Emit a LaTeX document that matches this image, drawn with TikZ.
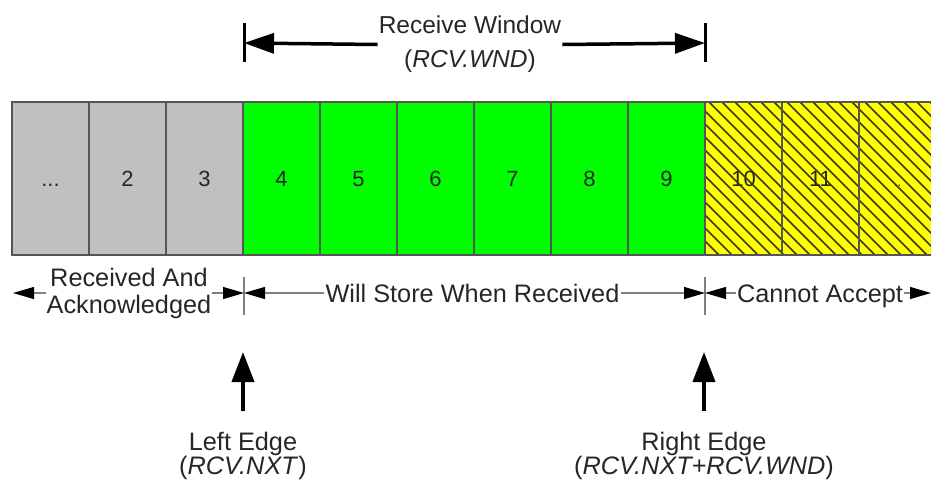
\documentclass[tikz,border=0pt]{standalone}
\usepackage{fontspec}
\setmainfont{Liberation Sans}
\usetikzlibrary{arrows.meta}
\definecolor{cellgray}{HTML}{C0C0C0}
\definecolor{cellgreen}{HTML}{00FF00}
\definecolor{cellyellow}{HTML}{FFFF00}
\definecolor{cellborder}{HTML}{555555}
\definecolor{dimgray}{HTML}{808080}
\definecolor{hatchcol}{HTML}{3A3A1A}
\begin{document}
\begin{tikzpicture}[x=1pt,y=-1pt,
  cell/.style={minimum width=77pt,minimum height=153pt,inner sep=0pt,
    font=\fontsize{22}{22}\selectfont,text=black!85,text height=15.7pt,text depth=0pt},
  lbl/.style={align=center,inner sep=1pt,text=black!85},
  dimlabel/.style={font=\fontsize{25.3}{25.3}\selectfont,inner sep=1pt,text=black!85,
    text height=18.1pt,text depth=0pt},
  border/.style={draw=cellborder,line width=1.6pt},
  hatch/.style={draw=hatchcol,line width=1.5pt},
  winarrow/.style={line width=3.5pt,-{Triangle[length=30pt,width=20pt]}},
  wintick/.style={line width=3pt},
  dimarrow/.style={draw=dimgray,line width=1.2pt,-{Triangle[length=21pt,width=12pt,color=black]}},
  dimtick/.style={draw=dimgray,line width=1.2pt},
  uparrow/.style={line width=4pt,-{Triangle[length=30pt,width=22pt]}}]
\useasboundingbox (0,0) rectangle (931,485);

% cells
\node[cell,fill=cellgray]   (c1)  at (50.5,178.5)  {...};
\node[cell,fill=cellgray]   (c2)  at (127.5,178.5) {2};
\node[cell,fill=cellgray]   (c3)  at (204.5,178.5) {3};
\node[cell,fill=cellgreen]  (c4)  at (281.5,178.5) {4};
\node[cell,fill=cellgreen]  (c5)  at (358.5,178.5) {5};
\node[cell,fill=cellgreen]  (c6)  at (435.5,178.5) {6};
\node[cell,fill=cellgreen]  (c7)  at (512.5,178.5) {7};
\node[cell,fill=cellgreen]  (c8)  at (589.5,178.5) {8};
\node[cell,fill=cellgreen]  (c9)  at (666.5,178.5) {9};
\node[cell,fill=cellyellow] (c10) at (743.5,178.5) {10};
\node[cell,fill=cellyellow] (c11) at (820.5,178.5) {11};
\node[cell,fill=cellyellow] (c12) at (897.5,178.5) {\fontsize{13}{13}\selectfont ..};

% hatching
\begin{scope}
\clip (c10.north west) rectangle (c12.south east);
\foreach \k in {0,...,31} \draw[hatch] ({553+13*\k},102) -- ++(153,153);
\end{scope}

% borders
\draw[border] (c1.north west) rectangle (c12.south east);
\foreach \i in {1,...,11} \draw[border] (c\i.north east) -- (c\i.south east);

% receive window
\coordinate (wl) at (244,43);
\coordinate (wr) at (705,43);
\coordinate (wlt) at (244,23);
\coordinate (wlb) at (244,62);
\coordinate (wrt) at (705,23);
\coordinate (wrb) at (705,62);
\node[lbl,font=\fontsize{24.5}{34}\selectfont] (rw) at (470,44.5) {Receive Window\\(\textit{RCV.WND})};
\draw[winarrow] (rw.west) -- (wl);
\draw[winarrow] (rw.east) -- (wr);
\draw[wintick] (wlt) -- (wlb);
\draw[wintick] (wrt) -- (wrb);

% dimension row
\coordinate (dl) at (13,293);
\coordinate (dm1) at (244,293);
\coordinate (dm2) at (705,293);
\coordinate (dr) at (931,293);
\coordinate (t1a) at (244,277);
\coordinate (t1b) at (244,315);
\coordinate (t2a) at (705,277);
\coordinate (t2b) at (705,315);
\draw[dimtick] (t1a) -- (t1b);
\draw[dimtick] (t2a) -- (t2b);
\node[lbl,font=\fontsize{25.3}{27}\selectfont] (ra) at (129,293) {Received And\\Acknowledged};
\node[dimlabel] (ws) at (472.5,293) {Will Store When Received};
\node[dimlabel] (ca) at (820,293) {Cannot Accept};
\draw[dimarrow] (ra.west) -- (dl);
\draw[dimarrow] (ra.east) -- (dm1);
\draw[dimarrow] (ws.west) -- (dm1);
\draw[dimarrow] (ws.east) -- (dm2);
\draw[dimarrow] (ca.west) -- (dm2);
\draw[dimarrow] (ca.east) -- (dr);

% edges
\coordinate (lt) at (243,352);
\coordinate (rt) at (704,352);
\node[lbl,font=\fontsize{25.3}{24}\selectfont] (le) at (243,455.5) {Left Edge\\(\textit{RCV.NXT})};
\node[lbl,font=\fontsize{25.3}{24}\selectfont] (re) at (704,455.5) {Right Edge\\(\textit{RCV.NXT+RCV.WND})};
\draw[uparrow] ([yshift=20pt]le.north) -- (lt);
\draw[uparrow] ([yshift=20pt]re.north) -- (rt);
\end{tikzpicture}
\end{document}
